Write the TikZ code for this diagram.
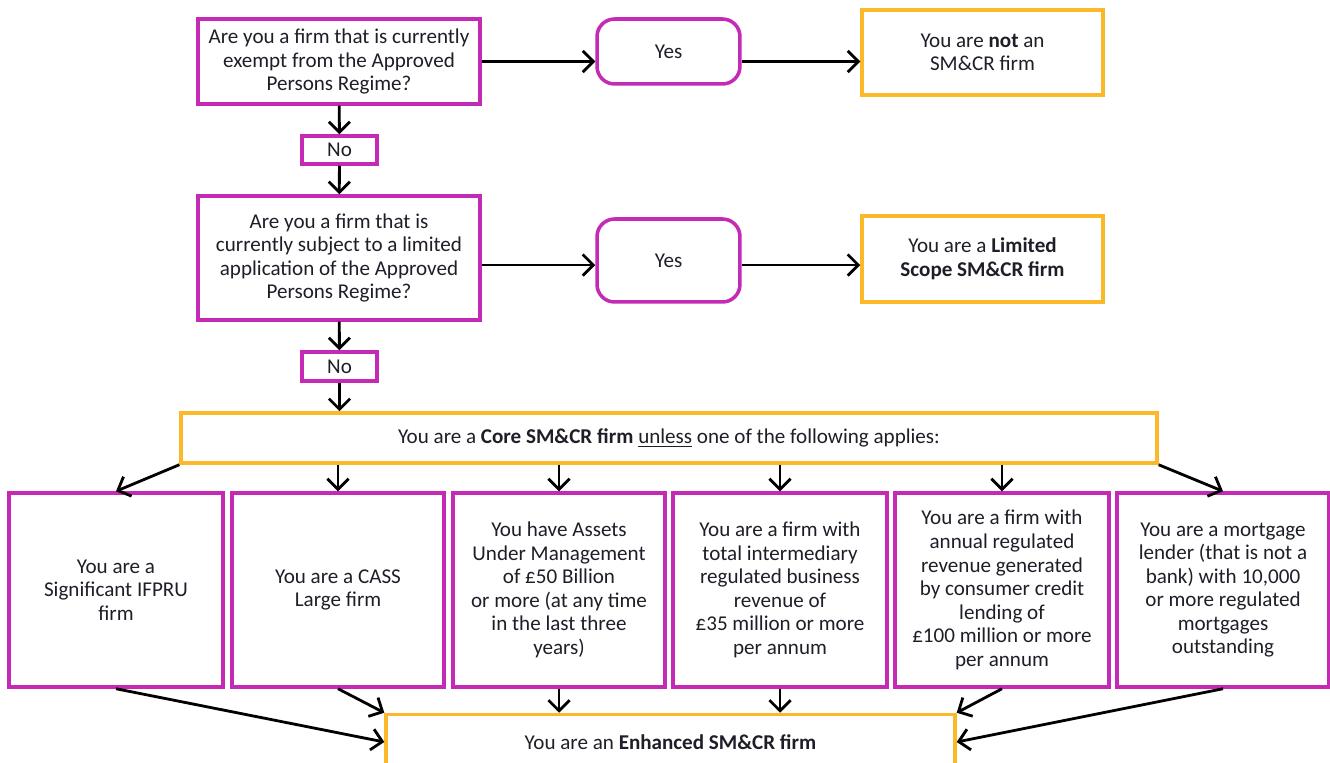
\documentclass[tikz,border=0pt]{standalone}
\usepackage{fontspec}
\setmainfont{Carlito}
\usetikzlibrary{arrows.meta}
\definecolor{regpink}{RGB}{196,42,180}
\definecolor{reggold}{RGB}{251,184,40}
\definecolor{regtext}{RGB}{30,30,40}

\begin{document}
\begin{tikzpicture}[x=0.02cm,y=-0.02cm,
    question/.style={draw=regpink, line width=2pt, align=center, inner sep=2pt,
        text=regtext, font=\fontsize{12}{13.4}\selectfont},
    answer/.style={question, rounded corners=10pt},
    outcome/.style={question, draw=reggold},
    link/.style={-{Straight Barb[length=6pt,width=12pt]}, line width=1.6pt}]
    \useasboundingbox (0,0) rectangle (1330,763);
    % Questions and answers at the top
    \node[question, minimum width=5.64cm, minimum height=1.7cm] (q1) at (339,61.5) {Are you a firm that is currently\\exempt from the Approved\\Persons Regime?};
    \node[answer, minimum width=2.86cm, minimum height=1.3cm] (yes1) at (668.5,51.5) {Yes};
    \node[outcome, minimum width=4.82cm, minimum height=1.7cm] (notfirm) at (982.5,52.5) {You are \textbf{not} an\\SM\&CR firm};
    \node[question, minimum width=1.5cm, minimum height=0.56cm] (no1) at (339.5,150) {No};
    \node[question, minimum width=5.64cm, minimum height=2.48cm] (q2) at (339,258) {Are you a firm that is\\currently subject to a limited\\application of the Approved\\Persons Regime?};
    \node[answer, minimum width=2.86cm, minimum height=1.66cm] (yes2) at (668.5,260.5) {Yes};
    \node[outcome, minimum width=4.82cm, minimum height=1.72cm] (limited) at (982.5,259) {You are a \textbf{Limited}\\\textbf{Scope SM\&CR firm}};
    \node[question, minimum width=1.5cm, minimum height=0.58cm] (no2) at (339.5,366.5) {No};
    % Core firm and exceptions
    \node[outcome, minimum width=19.52cm, minimum height=1cm] (core) at (669,438) {You are a \textbf{Core SM\&CR firm} \underline{unless} one of the following applies:};
    \node[question, minimum width=4.28cm, minimum height=3.88cm] (ifpru) at (116,590) {You are a\\Significant IFPRU\\firm};
    \node[question, minimum width=4.24cm, minimum height=3.88cm] (cass) at (338,590) {You are a CASS\\Large firm};
    \node[question, minimum width=4.24cm, minimum height=3.88cm] (aum) at (559,590) {You have Assets\\Under Management\\of £50 Billion\\or more (at any time\\in the last three\\years)};
    \node[question, minimum width=4.28cm, minimum height=3.88cm] (broker) at (780,590) {You are a firm with\\total intermediary\\regulated business\\revenue of\\£35 million or more\\per annum};
    \node[question, minimum width=4.28cm, minimum height=3.88cm] (credit) at (1002,590) {You are a firm with\\annual regulated\\revenue generated\\by consumer credit\\lending of\\£100 million or more\\per annum};
    \node[question, minimum width=4.24cm, minimum height=3.88cm] (lender) at (1223,590) {You are a mortgage\\lender (that is not a\\bank) with 10,000\\or more regulated\\mortgages\\outstanding};
    \node[outcome, minimum width=11.38cm, minimum height=1.1cm] (enhanced) at (670.5,742) {You are an \textbf{Enhanced SM\&CR firm}};
    % Arrows
    \draw[link] (q1.east) -- (q1.east -| yes1.west);
    \draw[link] (q1.east -| yes1.east) -- (q1.east -| notfirm.west);
    \draw[link] (q1) -- (no1);
    \draw[link] (no1) -- (q2);
    \draw[link] ([yshift=-4pt]q2.east) -- ([yshift=-4pt]q2.east -| yes2.west);
    \draw[link] ([yshift=-4pt]q2.east -| yes2.east) -- ([yshift=-4pt]q2.east -| limited.west);
    \draw[link] (q2) -- (no2);
    \draw[link] (no2) -- (no2 |- core.north);
    \draw[link] (core.south west) -- (ifpru.north);
    \draw[link] (cass.north |- core.south) -- (cass.north);
    \draw[link] (aum.north |- core.south) -- (aum.north);
    \draw[link] (broker.north |- core.south) -- (broker.north);
    \draw[link] (credit.north |- core.south) -- (credit.north);
    \draw[link] (core.south east) -- (lender.north);
    \draw[link] (ifpru.south) -- (enhanced.west);
    \draw[link] (cass.south) -- (enhanced.north west);
    \draw[link] (aum.south) -- (aum.south |- enhanced.north);
    \draw[link] (broker.south) -- (broker.south |- enhanced.north);
    \draw[link] (credit.south) -- (enhanced.north east);
    \draw[link] (lender.south) -- (enhanced.east);
\end{tikzpicture}
\end{document}
